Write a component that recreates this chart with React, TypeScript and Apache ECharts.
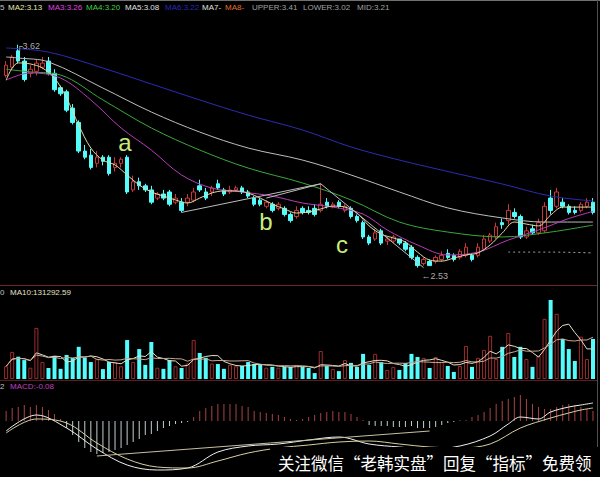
import React, { useEffect, useRef } from "react";
import * as echarts from "echarts";

// ---- data ----
const dayCount = 98;
const days: string[] = Array.from({ length: dayCount }, (_, i) => `D${i + 1}`);

// open, close, low, high
const ohlc: number[][] = [
  [3.47, 3.52, 3.46, 3.54], [3.51, 3.56, 3.5, 3.57], [3.59, 3.54, 3.53, 3.62], [3.54, 3.45, 3.44, 3.56],
  [3.48, 3.5, 3.46, 3.52], [3.49, 3.53, 3.47, 3.55], [3.51, 3.53, 3.5, 3.56], [3.54, 3.48, 3.47, 3.56],
  [3.48, 3.4, 3.39, 3.5], [3.41, 3.38, 3.37, 3.42], [3.39, 3.3, 3.29, 3.4], [3.31, 3.24, 3.23, 3.33],
  [3.24, 3.1, 3.09, 3.25], [3.1, 3.07, 3.06, 3.13], [3.08, 3.02, 3.01, 3.11], [3.04, 3.07, 3.02, 3.1],
  [3.07, 3.05, 3.03, 3.08], [3.07, 2.99, 2.98, 3.08], [3.02, 3.04, 3.0, 3.07], [3.04, 3.06, 3.02, 3.07],
  [3.07, 2.9, 2.89, 3.08], [2.91, 2.95, 2.9, 2.98], [2.95, 2.93, 2.91, 2.97], [2.93, 2.91, 2.9, 2.94],
  [2.91, 2.85, 2.84, 2.93], [2.87, 2.89, 2.86, 2.9], [2.89, 2.87, 2.86, 2.91], [2.9, 2.84, 2.83, 2.91],
  [2.85, 2.87, 2.84, 2.89], [2.85, 2.81, 2.8, 2.87], [2.85, 2.87, 2.83, 2.89], [2.86, 2.9, 2.85, 2.92],
  [2.93, 2.91, 2.9, 2.96], [2.9, 2.87, 2.86, 2.92], [2.9, 2.92, 2.88, 2.93], [2.94, 2.92, 2.91, 2.96],
  [2.91, 2.89, 2.88, 2.92], [2.9, 2.91, 2.89, 2.93], [2.91, 2.92, 2.9, 2.93], [2.92, 2.9, 2.89, 2.93],
  [2.9, 2.88, 2.87, 2.91], [2.87, 2.84, 2.83, 2.88], [2.86, 2.84, 2.83, 2.87], [2.83, 2.85, 2.82, 2.86],
  [2.84, 2.81, 2.8, 2.85], [2.82, 2.84, 2.81, 2.85], [2.82, 2.79, 2.78, 2.83], [2.79, 2.76, 2.75, 2.8],
  [2.78, 2.81, 2.77, 2.83], [2.82, 2.8, 2.79, 2.83], [2.81, 2.8, 2.79, 2.83], [2.82, 2.79, 2.78, 2.84],
  [2.81, 2.84, 2.8, 2.94], [2.85, 2.83, 2.82, 2.87], [2.83, 2.84, 2.82, 2.85], [2.85, 2.83, 2.82, 2.86],
  [2.81, 2.83, 2.8, 2.84], [2.82, 2.78, 2.77, 2.83], [2.78, 2.76, 2.75, 2.79], [2.75, 2.68, 2.67, 2.76],
  [2.68, 2.65, 2.64, 2.69], [2.67, 2.7, 2.66, 2.72], [2.71, 2.65, 2.64, 2.72], [2.66, 2.67, 2.64, 2.68],
  [2.66, 2.68, 2.65, 2.69], [2.67, 2.65, 2.64, 2.67], [2.65, 2.62, 2.61, 2.66], [2.63, 2.58, 2.57, 2.64],
  [2.58, 2.54, 2.53, 2.59], [2.55, 2.57, 2.54, 2.58], [2.56, 2.54, 2.54, 2.57], [2.56, 2.58, 2.55, 2.59],
  [2.57, 2.59, 2.56, 2.61], [2.6, 2.58, 2.57, 2.62], [2.59, 2.57, 2.56, 2.6], [2.58, 2.61, 2.57, 2.62],
  [2.59, 2.63, 2.58, 2.65], [2.59, 2.57, 2.56, 2.6], [2.59, 2.63, 2.58, 2.65], [2.62, 2.67, 2.61, 2.69],
  [2.66, 2.69, 2.65, 2.7], [2.68, 2.73, 2.67, 2.75], [2.75, 2.74, 2.72, 2.77], [2.76, 2.81, 2.74, 2.84],
  [2.8, 2.78, 2.77, 2.82], [2.78, 2.68, 2.67, 2.79], [2.68, 2.71, 2.67, 2.73], [2.72, 2.7, 2.69, 2.74],
  [2.7, 2.75, 2.69, 2.77], [2.71, 2.83, 2.7, 2.85], [2.87, 2.81, 2.79, 2.91], [2.83, 2.9, 2.82, 2.92],
  [2.85, 2.83, 2.82, 2.87], [2.83, 2.8, 2.79, 2.84], [2.81, 2.8, 2.79, 2.83], [2.81, 2.84, 2.8, 2.85],
  [2.83, 2.85, 2.82, 2.87], [2.85, 2.8, 2.79, 2.87],
];

const volume: number[] = [
  45000, 96000, 79000, 67000, 40000, 181000, 60000, 39000, 82000, 36000,
  85000, 75000, 114000, 75000, 60000, 70000, 35000, 60000, 60000, 45000,
  138000, 60000, 106000, 50000, 131000, 40000, 36000, 67000, 45000, 39000,
  55000, 138000, 92000, 75000, 55000, 53000, 36000, 50000, 45000, 46000,
  60000, 53000, 53000, 40000, 43000, 40000, 43000, 43000, 50000, 43000,
  39000, 21000, 99000, 46000, 35000, 28000, 67000, 57000, 43000, 89000,
  50000, 89000, 60000, 32000, 43000, 32000, 57000, 89000, 78000, 75000,
  39000, 78000, 60000, 46000, 25000, 46000, 117000, 43000, 75000, 103000,
  153000, 71000, 114000, 163000, 78000, 114000, 71000, 43000, 82000, 213000,
  280000, 231000, 142000, 106000, 64000, 150000, 71000, 142000,
];

// moving-average lines: [day index, price]
const ma2Points: number[][] = [
  [0, 3.447], [2, 3.531], [4, 3.526], [6, 3.506], [8, 3.457], [10, 3.359], [12, 3.227], [14, 3.115],
  [16, 3.056], [18, 3.032], [20, 2.983], [22, 2.934], [24, 2.9], [26, 2.88], [28, 2.861], [30, 2.846],
  [32, 2.87], [34, 2.895], [36, 2.905], [38, 2.905], [40, 2.895], [42, 2.87], [44, 2.841], [46, 2.817],
  [48, 2.797], [50, 2.802], [52, 2.817], [54, 2.831], [56, 2.826], [58, 2.797], [60, 2.734], [62, 2.694],
  [64, 2.675], [66, 2.655], [68, 2.606], [70, 2.567], [72, 2.562], [74, 2.577], [76, 2.592], [78, 2.602],
  [80, 2.641], [82, 2.699], [84, 2.753], [86, 2.743], [88, 2.734], [90, 2.787], [92, 2.826], [94, 2.826],
  [96, 2.826], [97, 2.826],
];
const ma3Points: number[][] = [
  [0, 3.447], [4, 3.482], [9, 3.457], [14, 3.35], [19, 3.213], [24, 3.105], [29, 2.983], [34, 2.919],
  [39, 2.9], [44, 2.88], [49, 2.846], [54, 2.826], [59, 2.792], [63, 2.714], [68, 2.641], [73, 2.592],
  [78, 2.606], [83, 2.665], [88, 2.714], [93, 2.77], [97, 2.805],
];
const ma4Points: number[][] = [
  [0, 3.5], [4, 3.487], [9, 3.472], [16, 3.35], [24, 3.213], [32, 3.105], [40, 3.017], [49, 2.944],
  [57, 2.861], [65, 2.753], [73, 2.704], [82, 2.68], [90, 2.704], [97, 2.738],
];
const ma5Points: number[][] = [
  [0, 3.56], [2, 3.555], [7, 3.536], [16, 3.408], [24, 3.291], [32, 3.193], [40, 3.115], [49, 3.056],
  [57, 2.983], [65, 2.9], [73, 2.822], [82, 2.773], [89, 2.753], [97, 2.753],
];
const ma6Points: number[][] = [
  [0, 3.604], [7, 3.584], [16, 3.506], [24, 3.428], [32, 3.35], [40, 3.276], [49, 3.203], [57, 3.12],
  [65, 3.056], [72, 3.007], [82, 2.939], [90, 2.88], [97, 2.856],
];
const lowerBandPoints: number[][] = [[83, 2.606], [90, 2.606], [97, 2.602]];
const trendPoints: number[][] = [[29, 2.8], [52, 2.94], [69, 2.53]];
const trendPoints2: number[][] = [[43, 2.87], [52, 2.94]];

// MACD
const macdHist: number[] = [
  0.04, 0.052, 0.056, 0.064, 0.056, 0.064, 0.056, 0.044, 0.028, 0.008,
  -0.028, -0.056, -0.084, -0.108, -0.124, -0.132, -0.128, -0.124, -0.116, -0.108,
  -0.096, -0.084, -0.072, -0.056, -0.052, -0.04, -0.028, -0.02, -0.012, -0.008,
  -0.004, 0.016, 0.04, 0.052, 0.06, 0.068, 0.068, 0.068, 0.068, 0.06,
  0.056, 0.04, 0.036, 0.032, 0.028, 0.024, 0.016, 0.008, 0.004, 0.008,
  0.016, 0.024, 0.032, 0.036, 0.04, 0.036, 0.036, 0.028, 0.016, 0.004,
  -0.016, -0.02, -0.02, -0.02, -0.024, -0.024, -0.024, -0.02, -0.028, -0.028,
  -0.028, -0.024, -0.016, -0.008, -0.004, 0.004, 0.004, 0.016, 0.024, 0.036,
  0.052, 0.068, 0.08, 0.088, 0.096, 0.104, 0.088, 0.068, 0.056, 0.048,
  0.048, 0.056, 0.064, 0.068, 0.064, 0.056, 0.048, 0.04,
];
const difPoints: number[][] = [
  [0, -0.04], [5, 0.024], [10, -0.028], [15, -0.112], [20, -0.176], [25, -0.196], [30, -0.188],
  [35, -0.124], [40, -0.1], [45, -0.092], [50, -0.076], [55, -0.064], [60, -0.092], [65, -0.104],
  [70, -0.112], [75, -0.1], [80, -0.06], [83, -0.012], [85, 0.016], [88, 0.008], [90, 0.036],
  [93, 0.056], [95, 0.064], [97, 0.072],
];
const deaPoints: number[][] = [
  [0, -0.048], [5, 0.008], [10, -0.008], [15, -0.088], [20, -0.152], [25, -0.184], [30, -0.188],
  [35, -0.16], [40, -0.128], [45, -0.108], [50, -0.096], [55, -0.084], [60, -0.08], [65, -0.092],
  [70, -0.104], [75, -0.108], [80, -0.092], [85, -0.028], [90, 0.012], [93, 0.032], [95, 0.044],
  [97, 0.052],
];
const macdTrendPoints: number[][] = [[15, -0.14], [70, -0.04]];

// labels
const priceLegend: string[] = ["MA2:3.13", "MA3:3.26", "MA4:3.20", "MA5:3.08", "MA6:3.22", "MA7-", "MA8-", "UPPER:3.41", "LOWER:3.02", "MID:3.21"];
const volumeLegend = "MA10:131292.59";
const macdLegend = "MACD:-0.08";
const waveLabels: string[] = ["a", "b", "c"];
const highMark = { day: 2, price: 3.62 };
const lowMark = { day: 68, price: 2.53 };
const notice = "关注微信“老韩实盘”回复“指标”免费领";

// ---- styling ----
const UP = "#c83838";
const DOWN = "#54fcfc";
const legendX = [8, 48, 86, 125, 165, 202, 225, 252, 303, 357];
const legendColor = ["#e6e6b4", "#e040e0", "#40d040", "#e0e0e0", "#2a2ab8", "#e0e0e0", "#e07030", "#a0a0a0", "#a0a0a0", "#a0a0a0"];
const waveXY = [[125, 142], [266, 221], [342, 244]];

function rollingMean(arr: number[], n: number): number[] {
  return arr.map((_, i) => {
    const s = Math.max(0, i - n + 1);
    let sum = 0;
    for (let k = s; k <= i; k++) sum += arr[k];
    return sum / (i - s + 1);
  });
}

function lineSeries(points: number[][], color: string, grid: number, extra: any = {}) {
  return {
    type: "line",
    xAxisIndex: grid,
    yAxisIndex: grid,
    data: points,
    symbol: "none",
    smooth: 0.35,
    silent: true,
    z: 4,
    lineStyle: { color, width: 1 },
    ...extra,
  };
}

export default function App() {
  const ref = useRef<HTMLDivElement>(null);

  useEffect(() => {
    if (!ref.current) return;
    const chart = echarts.init(ref.current, null, { renderer: "svg" });
    const font = '8px "Liberation Sans", Arial, sans-serif';

    const isUp = (i: number) => ohlc[i][1] >= ohlc[i][0];

    const graphic: any[] = [
      { type: "line", shape: { x1: 0, y1: 0.5, x2: 600, y2: 0.5 }, style: { stroke: "#707070", lineWidth: 1 } },
      { type: "line", shape: { x1: 597.5, y1: 0, x2: 597.5, y2: 477 }, style: { stroke: "#505050", lineWidth: 1 } },
      { type: "line", shape: { x1: 0, y1: 285.5, x2: 597, y2: 285.5 }, style: { stroke: "#6e2626", lineWidth: 1 } },
      { type: "line", shape: { x1: 0, y1: 380.5, x2: 597, y2: 380.5 }, style: { stroke: "#5a1e1e", lineWidth: 1 } },
      { type: "text", style: { text: "5", x: 0, y: 7, fill: "#c0c0c0", font, verticalAlign: "middle" } },
      ...priceLegend.map((t, i) => ({
        type: "text",
        style: { text: t, x: legendX[i], y: 7, fill: legendColor[i], font, verticalAlign: "middle" },
      })),
      { type: "text", style: { text: "0", x: 0, y: 292, fill: "#c0c0c0", font, verticalAlign: "middle" } },
      { type: "text", style: { text: volumeLegend, x: 10, y: 292, fill: "#e6e0c0", font, verticalAlign: "middle" } },
      { type: "text", style: { text: "2", x: 0, y: 386, fill: "#c0c0c0", font, verticalAlign: "middle" } },
      { type: "text", style: { text: macdLegend, x: 10, y: 386, fill: "#c040c0", font, verticalAlign: "middle" } },
      ...waveLabels.map((t, i) => ({
        type: "text",
        z: 10,
        style: {
          text: t, x: waveXY[i][0], y: waveXY[i][1], fill: "#c8ec7c",
          font: '24px "Liberation Sans", Arial, sans-serif', align: "center", verticalAlign: "middle",
        },
      })),
      { type: "rect", z: 20, shape: { x: 270, y: 447, width: 330, height: 30 }, style: { fill: "#000" } },
      {
        type: "text", z: 21,
        style: {
          text: notice, x: 278, y: 462.5, fill: "#ffffff",
          font: '16.5px "Noto Sans CJK SC", sans-serif', verticalAlign: "middle",
        },
      },
    ];

    const option: any = {
      backgroundColor: "#000",
      animation: false,
      grid: [
        { left: 3.1, right: 4, top: 12, height: 272 },
        { left: 3.1, right: 4, top: 296, height: 83 },
        { left: 3.1, right: 4, top: 390, height: 87 },
      ],
      xAxis: [0, 1, 2].map((g) => ({ type: "category", gridIndex: g, data: days, boundaryGap: true, show: false })),
      yAxis: [
        { type: "value", gridIndex: 0, min: 2.45, max: 3.78, show: false },
        { type: "value", gridIndex: 1, min: 0, max: 294000, show: false },
        { type: "value", gridIndex: 2, min: -0.224, max: 0.124, show: false },
      ],
      series: [
        {
          type: "candlestick",
          xAxisIndex: 0,
          yAxisIndex: 0,
          data: ohlc,
          barWidth: 4,
          z: 3,
          itemStyle: { color: "#000", color0: DOWN, borderColor: UP, borderColor0: DOWN, borderWidth: 1 },
        },
        lineSeries(ma6Points, "#2c2cb4", 0),
        lineSeries(ma5Points, "#bdbdbd", 0),
        lineSeries(ma4Points, "#3aa83a", 0),
        lineSeries(ma3Points, "#b83cb8", 0),
        lineSeries(ma2Points, "#e0daa4", 0),
        lineSeries(lowerBandPoints, "#a0a0a0", 0, { lineStyle: { color: "#a0a0a0", width: 1, type: [2, 3] } }),
        lineSeries(trendPoints, "#bcbcbc", 0, { smooth: false }),
        lineSeries(trendPoints2, "#bcbcbc", 0, { smooth: false }),
        {
          type: "scatter",
          xAxisIndex: 0,
          yAxisIndex: 0,
          symbolSize: 0,
          silent: true,
          z: 6,
          data: [
            { value: [highMark.day, highMark.price], label: { formatter: "┌" + highMark.price.toFixed(2), position: "right", distance: 0, offset: [-2, 1] } },
            { value: [lowMark.day, lowMark.price], label: { formatter: "←" + lowMark.price.toFixed(2), position: "right", distance: 4, offset: [0, 8] } },
          ],
          label: { show: true, color: "#d8d8d8", fontSize: 9, fontFamily: "Liberation Sans, Arial, sans-serif" },
        },
        {
          type: "bar",
          xAxisIndex: 1,
          yAxisIndex: 1,
          barWidth: 4,
          data: volume.map((v, i) => ({
            value: v,
            itemStyle: isUp(i) ? { color: "#000", borderColor: "#9e2c2c", borderWidth: 1 } : { color: DOWN },
          })),
        },
        lineSeries(rollingMean(volume, 5).map((v, i) => [i, v]), "#e4e0c8", 1, { smooth: false }),
        lineSeries(rollingMean(volume, 10).map((v, i) => [i, v]), "#c8a890", 1, { smooth: false }),
        {
          type: "bar",
          xAxisIndex: 2,
          yAxisIndex: 2,
          barWidth: 1,
          data: macdHist.map((v) => ({ value: v, itemStyle: { color: v >= 0 ? "#a84444" : "#c0d0d0" } })),
        },
        lineSeries(difPoints, "#f0f0f0", 2),
        lineSeries(deaPoints, "#d8d0a0", 2),
        lineSeries(macdTrendPoints, "#c8c0a0", 2, { smooth: false }),
      ],
      graphic,
    };

    chart.setOption(option);
    return () => chart.dispose();
  }, []);

  return (
    <div
      ref={ref}
      style={{ position: "fixed", left: 0, top: 0, width: 600, height: 477, background: "#000" }}
    />
  );
}
